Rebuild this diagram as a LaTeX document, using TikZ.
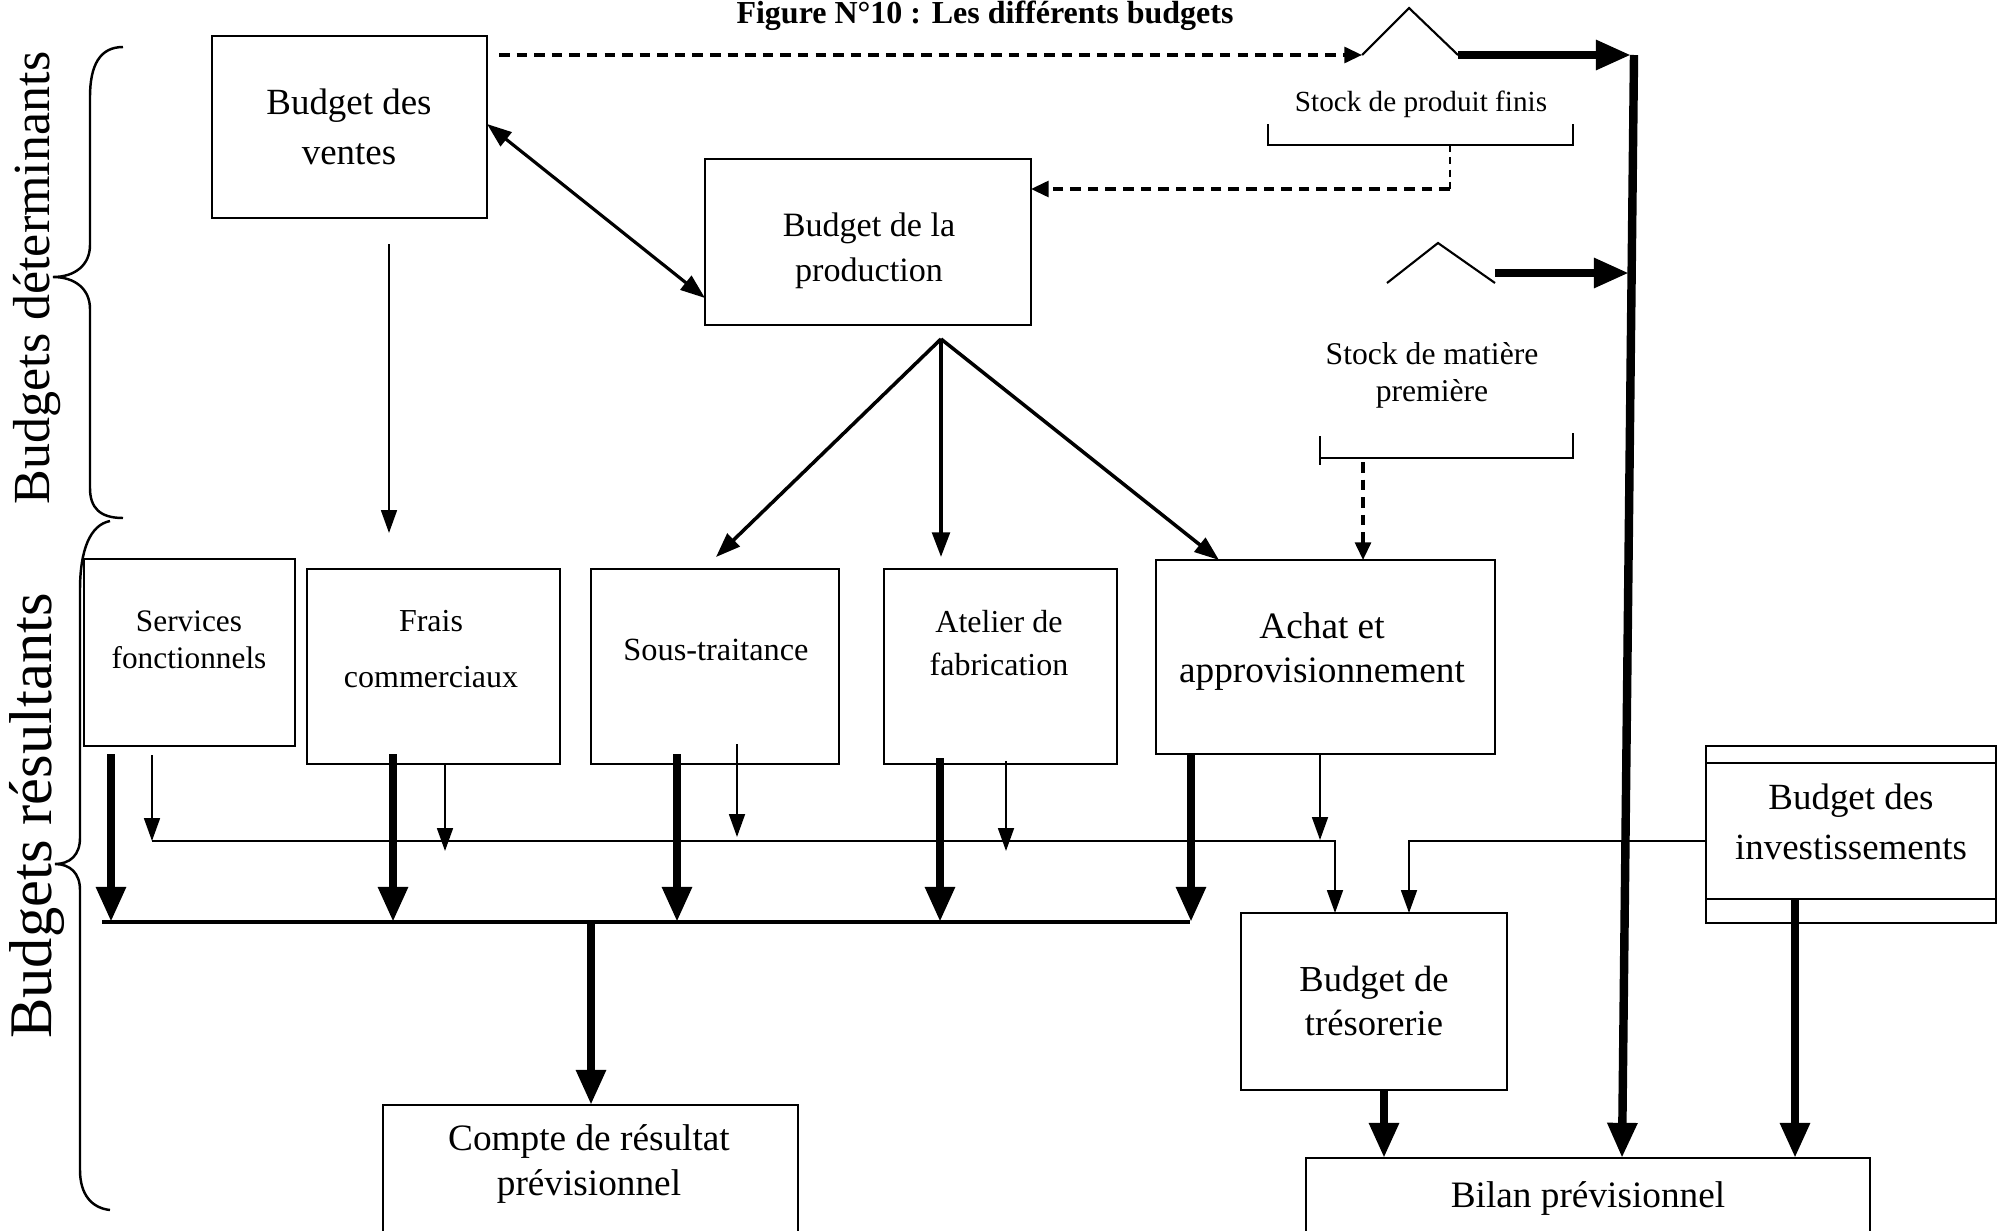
\documentclass[tikz,border=0pt]{standalone}
\usepackage{fontspec}
\setmainfont{Liberation Serif}
\usetikzlibrary{arrows.meta,fit,calc}
\newcommand{\fs}[2]{\fontsize{#1}{#2}\selectfont}
\begin{document}
\begin{tikzpicture}[x=0.01cm,y=-0.01cm,
  box/.style={draw, line width=0.6pt, inner sep=0pt, outer sep=0pt},
  txt/.style={align=center, inner sep=0pt},
  thinarr/.style={line width=0.6pt, -{Triangle[width=4.5pt,length=6.5pt]}},
  medarr/.style={line width=1pt, -{Triangle[width=5pt,length=7pt]}},
  thickarr/.style={line width=2.4pt, -{Triangle[width=8pt,length=10pt]}},
  dsharr/.style={line width=0.9pt, dash pattern=on 3pt off 2pt, -{Triangle[width=4.5pt,length=5pt]}},
  thinline/.style={line width=0.6pt},
  bracestyle/.style={line width=0.7pt},
]
\useasboundingbox (0,0) rectangle (2000,1230);
\clip (0,0) rectangle (2000,1230);

% title
\node[font=\bfseries\fs{9.1}{11}, anchor=base, inner sep=0pt] (title) at (985,23) {Figure N°10 : Les différents budgets};

% boxes
\node[box, fit={(212,36)(487,218)}] (ventes) {};
\node[box, fit={(705,159)(1031,325)}] (prod) {};
\node[box, fit={(84,559)(295,746)}] (serv) {};
\node[box, fit={(307,569)(560,764)}] (frais) {};
\node[box, fit={(591,569)(839,764)}] (sous) {};
\node[box, fit={(884,569)(1117,764)}] (atel) {};
\node[box, fit={(1156,560)(1495,754)}] (achat) {};
\node[box, fit={(1241,913)(1507,1090)}] (treso) {};
\node[box, fit={(1706,746)(1996,923)}] (inv) {};
\draw[thinline] (1706,763) -- (1996,763) (1706,899) -- (1996,899);
\node[box, fit={(1306,1158)(1870,1270)}] (bilan) {};
\node[box, fit={(383,1105)(798,1270)}] (compte) {};

% texts
\node[txt, font=\fs{10.5}{14.2}] (ventesT) at (349,127) {Budget des\\ventes};
\node[txt, font=\fs{9.7}{12.7}] (prodT) at (869,251) {Budget de la\\production};
\node[txt, font=\fs{8.9}{10.5}] (servT) at (189,640) {Services\\fonctionnels};
\node[txt, font=\fs{9.1}{16}] (fraisT) at (431,649) {Frais\\commerciaux};
\node[txt, font=\fs{9.2}{11}] (sousT) at (716,650) {Sous-traitance};
\node[txt, font=\fs{9.1}{12}] (atelT) at (999,643) {Atelier de\\fabrication};
\node[txt, font=\fs{10.6}{12.5}] (achatT) at (1322,652) {Achat et\\approvisionnement};
\node[txt, font=\fs{10.4}{12.3}] (tresoT) at (1374,1001) {Budget de\\trésorerie};
\node[txt, font=\fs{10.5}{14.2}] (invT) at (1851,822) {Budget des\\investissements};
\node[txt, font=\fs{10.6}{12.7}] (bilanT) at (1588,1198) {Bilan prévisionnel};
\node[txt, font=\fs{10.6}{12.7}] (compteT) at (589,1164) {Compte de résultat\\prévisionnel};
\node[txt, font=\fs{8.3}{10}] (stockPF) at (1421,104) {Stock de produit finis};
\node[txt, font=\fs{9.0}{10.5}] (stockMP) at (1432,375) {Stock de matière\\première};

% side labels
\node[rotate=90, inner sep=0pt, font=\fs{14.8}{17}] (labD) at (37,278) {Budgets déterminants};
\node[rotate=90, inner sep=0pt, font=\fs{17.2}{20}] (labR) at (37,816) {Budgets résultants};

% braces
\draw[bracestyle] (123,47) .. controls (100,47) and (90,65) .. (90,97) -- (90,245)
  .. controls (90,265) and (75,277) .. (53,277) .. controls (75,277) and (90,289) .. (90,309)
  -- (90,488) .. controls (90,508) and (100,518) .. (123,518);
\draw[bracestyle] (110,521) .. controls (90,525) and (80,550) .. (80,590) -- (80,838)
  .. controls (80,855) and (70,864) .. (55,864) .. controls (70,864) and (80,873) .. (80,890)
  -- (80,1170) .. controls (80,1195) and (92,1208) .. (110,1210);

% stock de produit finis
\coordinate (pfL) at (1362,55);
\coordinate (pfA) at (1409,8);
\coordinate (pfR) at (1458,55);
\coordinate (vD) at (499,55);
\draw[thinline] (pfL) -- (pfA) -- (pfR);
\draw[dsharr] (vD) -- (pfL);
\coordinate (vtop) at (1634,55);
\coordinate (vbot) at (1622,1158);
\draw[thickarr] (pfR) -- (1631,55);
\draw[thinline] (1268,124) -- (1268,145) -- (1573,145) -- (1573,124);
\coordinate (pfB) at (1450,145);
\coordinate (pfK) at (1450,189);
\draw[line width=0.6pt, dash pattern=on 2pt off 1.5pt] (pfB) -- (pfK);
\draw[dsharr] (pfK) -- (pfK -| prod.east);

% stock de matiere premiere
\coordinate (mpL) at (1387,283);
\coordinate (mpA) at (1438,243);
\coordinate (mpR) at (1495,283);
\draw[thinline] (mpL) -- (mpA) -- (mpR);
\coordinate (mpS) at (1495,273);
\draw[thickarr] (mpS) -- (1629,273);
\draw[thinline] (1320,436) -- (1320,465) (1320,458) -- (1573,458) -- (1573,433);
\coordinate (mpB) at (1363,462);
\draw[dsharr] (mpB) -- (mpB |- achat.north);

% big vertical
\draw[thickarr] (vtop) -- (vbot);

% ventes <-> production
\draw[line width=0.9pt, {Triangle[width=5pt,length=7pt]}-{Triangle[width=5pt,length=7pt]}] (ventes.east |- 0,124) -- (prod.west |- 0,298);
% ventes -> frais
\coordinate (vdA) at (389,244);
\coordinate (vdB) at (389,533);
\draw[thinarr] (vdA) -- (vdB);

% production fan
\coordinate (fan) at (941,339);
\draw[medarr] (fan) -- (716,557);
\draw[medarr] (fan) -- (941,557);
\draw[medarr] (fan) -- (1219,0 |- achat.north);

% thick arrows to bus
\coordinate (busL) at (102,922);
\coordinate (busR) at (1190,922);
\draw[line width=1.3pt] (busL) -- (busR);
\draw[thickarr] (111,754) -- (111,922);
\draw[thickarr] (393,754) -- (393,922);
\draw[thickarr] (677,754) -- (677,922);
\draw[thickarr] (940,758) -- (940,922);
\draw[thickarr] (1191,0 |- achat.south) -- (1191,922);
\draw[thickarr] (591,922) -- (591,0 |- compte.north);

% thin arrows to tresorerie line
\draw[thinarr] (152,755) -- (152,841);
\draw[thinline, -{Triangle[width=4.5pt,length=6.5pt]}] (152,841) -- (1335,841) -- (1335,0 |- treso.north);
\draw[thinarr] (445,763) -- (445,851);
\draw[thinarr] (737,744) -- (737,837);
\draw[thinarr] (1006,761) -- (1006,851);
\draw[thinarr] (1320,0 |- achat.south) -- (1320,840);
\draw[thinline, -{Triangle[width=4.5pt,length=6.5pt]}] (inv.west |- 0,841) -- (1409,841) -- (1409,0 |- treso.north);

% to bilan
\draw[thickarr] (1384,0 |- treso.south) -- (1384,0 |- bilan.north);
\draw[thickarr] (1795,899) -- (1795,0 |- bilan.north);

\end{tikzpicture}
\end{document}
